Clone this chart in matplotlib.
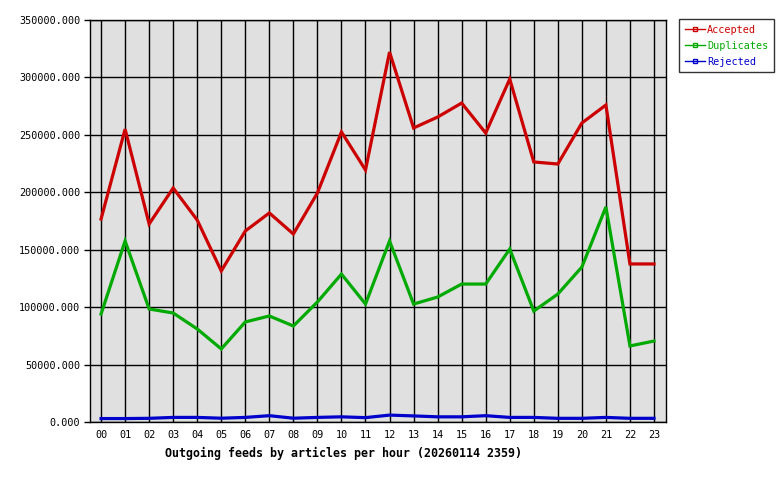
import matplotlib
matplotlib.use("Agg")
from matplotlib import pyplot as plt
from matplotlib.lines import Line2D

hours = ["%02d" % h for h in range(24)]
accepted = [176700, 255000, 172400, 203700, 175800, 131500, 166300, 182000, 163700, 199400,
            252500, 219400, 322100, 256000, 265500, 277700, 251600, 298600, 226400, 224600,
            260300, 276000, 137600, 137600]
duplicates = [94000, 157600, 98400, 94900, 81000, 63600, 87100, 92300, 83600, 104500,
              128800, 102700, 157600, 102700, 108800, 120100, 120100, 150600, 96600, 111400,
              134900, 187200, 66200, 70500]
rejected = [3000, 3000, 3200, 4000, 4000, 3300, 4000, 5500, 3300, 4000,
            4500, 3800, 6000, 5300, 4500, 4500, 5500, 4000, 4000, 3200,
            3200, 4000, 3200, 3200]
y_ticks = list(range(0, 350001, 50000))

plt.rcParams['font.family'] = ['DejaVu Sans Mono']
plt.rcParams['font.size'] = 7.3

fig = plt.figure(figsize=(7.8, 4.8), dpi=100)
ax = fig.add_axes([90/780, 58/480, 576/780, 402/480])
ax.set_facecolor('#e0e0e0')

x = list(range(len(hours)))
series = [("Accepted", accepted, '#cc0000'),
          ("Duplicates", duplicates, '#00aa00'),
          ("Rejected", rejected, '#0000cc')]
for name, vals, col in series:
    ax.plot(x, vals, color=col, lw=2.3, label=name, solid_joinstyle='miter')

ax.set_xlim(-0.46, 23.5)
ax.set_ylim(0, 350000)
ax.set_xticks(x)
ax.set_xticklabels(hours)
ax.set_yticks(y_ticks)
ax.set_yticklabels(["%d.000" % v for v in y_ticks])
ax.grid(True, color='black', lw=1)
ax.set_axisbelow(True)
ax.tick_params(axis='x', length=0, pad=6)
ax.tick_params(axis='y', length=4, width=1, pad=3)
for s in ax.spines.values():
    s.set_color('black')
    s.set_linewidth(1)

ax.set_xlabel("Outgoing feeds by articles per hour (20260114 2359)", fontweight='bold',
              fontsize=8.4)
ax.xaxis.set_label_coords((343 - 90) / 576, -0.061)

handles = [Line2D([0, 0.5, 1], [0, 0, 0], color=col, lw=1, marker='s', ms=2.5, mfc='none',
                  mec=col, markevery=[1]) for _, _, col in series]
leg = fig.legend(handles, [n for n, _, _ in series], loc='upper left',
                 bbox_to_anchor=(679/780, 1 - 19/480), frameon=True, fancybox=False,
                 edgecolor='black', handlelength=2.0, handletextpad=0.2, borderpad=0.55,
                 labelspacing=0.6, borderaxespad=0)
leg.get_frame().set_linewidth(1)
for t, (_, _, col) in zip(leg.get_texts(), series):
    t.set_color(col)

fig.savefig("out.png", dpi=100, facecolor='white')
